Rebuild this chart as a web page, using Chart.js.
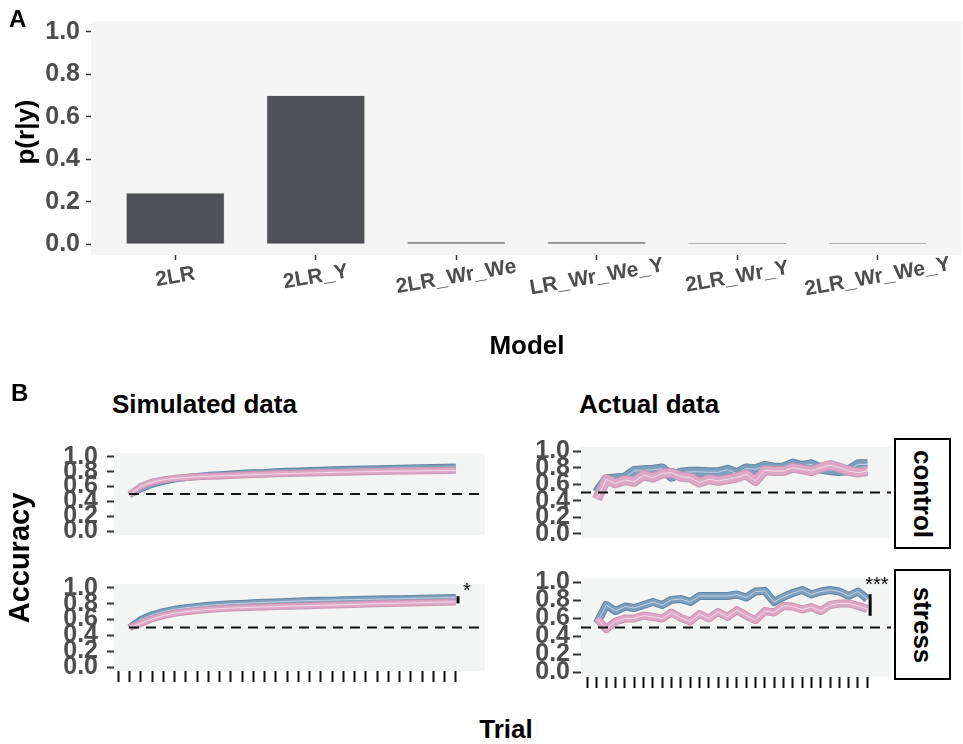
<!DOCTYPE html>
<html>
<head>
<meta charset="utf-8">
<script src="https://cdn.jsdelivr.net/npm/chart.js@4.4.1/dist/chart.umd.min.js"></script>
<style>
  html, body { margin: 0; padding: 0; background: #fff; }
  #fig { position: relative; width: 963px; height: 744px; overflow: hidden;
         font-family: "Liberation Sans", Arial, sans-serif; }
  #fig canvas { position: absolute; }
  .lbl { position: absolute; font-weight: bold; color: #000; white-space: nowrap; line-height: 1; }
  .rot { transform: translate(-50%, -50%) rotate(-90deg); }
  .ctr { transform: translateX(-50%); }
  .strip { position: absolute; border: 2px solid #000; background: #fff; box-sizing: border-box; }
  .strip span { position: absolute; left: 50%; top: 50%; line-height: 1; white-space: nowrap;
                transform: translate(-50%, -50%) rotate(90deg); font-weight: bold; font-size: 26px; color: #000; }
</style>
</head>
<body>
<div id="fig">
  <canvas id="cA" width="963" height="370" style="left:0;top:0"></canvas>
  <canvas id="cSimCtl" width="490" height="130" style="left:0;top:429px"></canvas>
  <canvas id="cActCtl" width="404" height="130" style="left:490px;top:429px"></canvas>
  <canvas id="cSimStr" width="490" height="135" style="left:0;top:560px"></canvas>
  <canvas id="cActStr" width="404" height="135" style="left:490px;top:560px"></canvas>

  <div class="lbl" style="left:9px;top:7px;font-size:24px">A</div>
  <div class="lbl rot" style="left:25px;top:132px;font-size:26px">p(r|y)</div>
  <div class="lbl ctr" style="left:527px;top:332px;font-size:26px">Model</div>

  <div class="lbl" style="left:11px;top:381px;font-size:24px">B</div>
  <div class="lbl" style="left:112px;top:391px;font-size:26px">Simulated data</div>
  <div class="lbl" style="left:579px;top:391px;font-size:26px">Actual data</div>
  <div class="lbl rot" style="left:19px;top:558px;font-size:29px">Accuracy</div>
  <div class="lbl ctr" style="left:506px;top:716px;font-size:26px">Trial</div>

  <div class="strip" style="left:894px;top:438px;width:57px;height:111px"><span>control</span></div>
  <div class="strip" style="left:894px;top:569px;width:57px;height:111px"><span>stress</span></div>
</div>

<script>
// ---- Panel A: posterior model probabilities ----
const models = ['2LR', '2LR_Y', '2LR_Wr_We', 'LR_Wr_We_Y', '2LR_Wr_Y', '2LR_Wr_We_Y'];
const modelProb = [0.242, 0.700, 0.012, 0.012, 0.008, 0.008];
const probTicks = [0.0, 0.2, 0.4, 0.6, 0.8, 1.0];

// ---- Panel B: learning curves (trials 1-30) ----
const trials = [1, 2, 3, 4, 5, 6, 7, 8, 9, 10, 11, 12, 13, 14, 15,
                16, 17, 18, 19, 20, 21, 22, 23, 24, 25, 26, 27, 28, 29, 30];
const trialTicks = [0, 1, 2, 3, 4, 5, 6, 7, 8, 9, 10, 11, 12, 13, 14, 15,
                    16, 17, 18, 19, 20, 21, 22, 23, 24, 25, 26, 27, 28, 29, 30];
const accTicks = [0.0, 0.2, 0.4, 0.6, 0.8, 1.0];

const simControlBlue = [0.49, 0.57, 0.63, 0.67, 0.70, 0.72, 0.735, 0.75, 0.76, 0.77,
                        0.78, 0.785, 0.79, 0.80, 0.805, 0.81, 0.815, 0.82, 0.825, 0.83,
                        0.833, 0.836, 0.84, 0.843, 0.846, 0.85, 0.852, 0.855, 0.858, 0.862];
const simControlPink = [0.49, 0.60, 0.66, 0.69, 0.71, 0.72, 0.73, 0.737, 0.743, 0.748,
                        0.754, 0.76, 0.765, 0.77, 0.775, 0.778, 0.782, 0.786, 0.79, 0.793,
                        0.796, 0.799, 0.802, 0.805, 0.807, 0.809, 0.811, 0.813, 0.815, 0.817];
const simStressBlue  = [0.50, 0.60, 0.66, 0.70, 0.73, 0.75, 0.765, 0.78, 0.79, 0.80,
                        0.805, 0.812, 0.818, 0.824, 0.83, 0.835, 0.84, 0.843, 0.846, 0.85,
                        0.853, 0.856, 0.859, 0.862, 0.865, 0.868, 0.871, 0.874, 0.877, 0.88];
const simStressPink  = [0.50, 0.55, 0.61, 0.65, 0.68, 0.70, 0.715, 0.728, 0.737, 0.745,
                        0.75, 0.755, 0.76, 0.764, 0.768, 0.772, 0.776, 0.78, 0.784, 0.788,
                        0.792, 0.796, 0.80, 0.804, 0.807, 0.81, 0.814, 0.817, 0.82, 0.823];

const actControlBlue = [0.50, 0.66, 0.67, 0.68, 0.76, 0.77, 0.775, 0.79, 0.69, 0.74,
                        0.75, 0.75, 0.745, 0.745, 0.775, 0.73, 0.79, 0.78, 0.82, 0.80,
                        0.80, 0.85, 0.82, 0.84, 0.79, 0.77, 0.76, 0.77, 0.84, 0.84];
const actControlPink = [0.42, 0.66, 0.61, 0.65, 0.63, 0.71, 0.68, 0.73, 0.74, 0.69,
                        0.68, 0.62, 0.66, 0.64, 0.66, 0.68, 0.72, 0.64, 0.77, 0.76,
                        0.76, 0.80, 0.78, 0.76, 0.80, 0.83, 0.80, 0.76, 0.74, 0.76];
const actStressBlue  = [0.55, 0.75, 0.683, 0.733, 0.717, 0.75, 0.783, 0.75, 0.807, 0.817,
                        0.783, 0.85, 0.85, 0.85, 0.85, 0.867, 0.833, 0.90, 0.907, 0.783,
                        0.84, 0.883, 0.917, 0.867, 0.90, 0.917, 0.90, 0.85, 0.90, 0.817];
const actStressPink  = [0.60, 0.483, 0.567, 0.60, 0.60, 0.633, 0.617, 0.60, 0.667, 0.607,
                        0.567, 0.65, 0.60, 0.673, 0.617, 0.693, 0.633, 0.583, 0.683, 0.667,
                        0.74, 0.733, 0.70, 0.727, 0.683, 0.75, 0.767, 0.767, 0.74, 0.707];

const FONT = "'Liberation Sans', Arial, sans-serif";
Chart.defaults.font.family = FONT;

const BLUE = { band: 'rgb(124,159,189)', edge: 'rgb(98,133,164)', mid: 'rgba(222,233,243,0.7)' };
const PINK = { band: 'rgb(220,168,197)', edge: 'rgb(203,148,180)', mid: 'rgba(252,234,243,0.75)' };

// ---- shared drawing helpers ----
const panelBg = {
  id: 'panelBg',
  beforeDraw(chart, args, opts) {
    const { ctx, chartArea: a } = chart;
    ctx.save();
    ctx.fillStyle = opts.color || '#f3f5f4';
    ctx.fillRect(a.left, a.top, a.right - a.left, a.bottom - a.top);
    ctx.restore();
  }
};

const chanceLine = {
  id: 'chanceLine',
  afterDatasetsDraw(chart, args, o) {
    if (o.value === undefined) return;
    const { ctx, chartArea: a, scales: { x, y } } = chart;
    const py = y.getPixelForValue(o.value);
    const x0 = o.from !== undefined ? x.getPixelForValue(o.from) : a.left;
    ctx.save();
    ctx.strokeStyle = '#111';
    ctx.lineWidth = 2;
    ctx.setLineDash([10, 7]);
    ctx.beginPath();
    ctx.moveTo(x0, py);
    ctx.lineTo(a.right, py);
    ctx.stroke();
    ctx.restore();
  }
};

const sigMark = {
  id: 'sigMark',
  afterDatasetsDraw(chart, args, o) {
    if (o.x === undefined) return;
    const { ctx, scales: { x, y } } = chart;
    const px = x.getPixelForValue(o.x);
    ctx.save();
    ctx.strokeStyle = '#000';
    ctx.lineWidth = 3;
    ctx.beginPath();
    ctx.moveTo(px, y.getPixelForValue(o.from));
    ctx.lineTo(px, y.getPixelForValue(o.to));
    ctx.stroke();
    ctx.fillStyle = '#000';
    ctx.font = '20px ' + FONT;
    ctx.textAlign = 'left';
    ctx.textBaseline = 'alphabetic';
    ctx.fillText(o.label, x.getPixelForValue(o.labelX), y.getPixelForValue(o.labelY));
    ctx.restore();
  }
};

Chart.register(panelBg, chanceLine, sigMark);

// ---- Panel A ----
const modelLabels = {
  id: 'modelLabels',
  afterDraw(chart) {
    const { ctx, scales: { x }, chartArea: a } = chart;
    ctx.save();
    ctx.font = 'bold 21px ' + FONT;
    ctx.fillStyle = '#4d4d4d';
    ctx.textAlign = 'center';
    ctx.textBaseline = 'middle';
    models.forEach((m, i) => {
      ctx.save();
      ctx.translate(x.getPixelForValue(i), a.bottom + 22);
      ctx.rotate(-10 * Math.PI / 180);
      ctx.fillText(m, 0, 0);
      ctx.restore();
    });
    ctx.restore();
  }
};

new Chart(document.getElementById('cA'), {
  type: 'bar',
  data: {
    datasets: [{
      data: modelProb.map((v, i) => ({ x: i, y: v })),
      backgroundColor: '#505157',
      borderColor: '#c8c9cb',
      borderWidth: 0.6,
      barPercentage: 0.7,
      categoryPercentage: 1.0
    }]
  },
  options: {
    responsive: false,
    animation: false,
    events: [],
    layout: { padding: { top: 8, right: 1, left: 0, bottom: 0 } },
    plugins: { legend: { display: false }, tooltip: { enabled: false }, panelBg: { color: '#f4f5f4' } },
    scales: {
      x: {
        type: 'linear', min: -0.6, max: 5.6, offset: false,
        afterBuildTicks: s => { s.ticks = models.map((_, i) => ({ value: i })); },
        ticks: { display: false },
        grid: { offset: false, drawOnChartArea: false, tickLength: 5, tickWidth: 1.5, tickColor: '#333' },
        border: { display: false },
        afterFit: s => { s.height = 115; }
      },
      y: {
        min: -0.05, max: 1.05,
        afterBuildTicks: s => { s.ticks = probTicks.map(v => ({ value: v })); },
        ticks: { autoSkip: false, padding: 6, color: '#4d4d4d',
                 font: { size: 25, weight: 'bold' }, callback: v => v.toFixed(1) },
        grid: { drawOnChartArea: false, tickLength: 5, tickWidth: 1.5, tickColor: '#333' },
        border: { display: false },
        afterFit: s => { s.width = 91; }
      }
    }
  },
  plugins: [modelLabels]
});

// ---- Panel B ----
// each curve: a broad band with a darker rim and a pale centre line
function curve(mean, width, col) {
  const pts = mean.map((v, i) => ({ x: trials[i], y: v }));
  const common = { data: pts, pointRadius: 0, borderJoinStyle: 'round', borderCapStyle: 'butt' };
  return [
    { ...common, borderColor: col.mid, borderWidth: 1 },
    { ...common, borderColor: col.band, borderWidth: width },
    { ...common, borderColor: col.edge, borderWidth: width + 2 }
  ];
}

function curvePanel(id, cfg) {
  return new Chart(document.getElementById(id), {
    type: 'line',
    data: {
      datasets: [
        ...curve(cfg.pink, cfg.width, PINK),
        ...curve(cfg.blue, cfg.width, BLUE)
      ]
    },
    options: {
      responsive: false,
      animation: false,
      events: [],
      layout: { padding: cfg.padding },
      elements: { line: { tension: 0, fill: false } },
      plugins: {
        legend: { display: false }, tooltip: { enabled: false },
        panelBg: { color: '#f3f5f4' },
        chanceLine: { value: 0.5, from: cfg.dashFrom },
        sigMark: cfg.sig || {}
      },
      scales: {
        x: {
          type: 'linear', min: cfg.xmin, max: cfg.xmax,
          display: cfg.showX,
          afterBuildTicks: s => { s.ticks = trialTicks.map(v => ({ value: v })); },
          ticks: { display: false },
          grid: { drawOnChartArea: false, tickLength: 11, tickWidth: 2, tickColor: '#111' },
          border: { display: false },
          afterFit: s => { s.height = 11; }
        },
        y: {
          min: -0.05, max: 1.05,
          afterBuildTicks: s => { s.ticks = accTicks.map(v => ({ value: v })); },
          ticks: { autoSkip: false, padding: cfg.labelPad, color: '#4d4d4d',
                   font: { size: 25, weight: 'bold' }, callback: v => v.toFixed(1) },
          grid: { drawOnChartArea: false, tickLength: cfg.tickLen, tickWidth: 2, tickColor: '#333' },
          border: { display: false },
          afterFit: s => { s.width = cfg.axisW; }
        }
      }
    }
  });
}

curvePanel('cSimCtl', {
  blue: simControlBlue, pink: simControlPink, width: 5,
  xmin: -0.38, xmax: 32.6, showX: false, dashFrom: 0.95,
  padding: { top: 8, right: 5, bottom: 10, left: 0 }, axisW: 114, tickLen: 7, labelPad: 9
});
curvePanel('cActCtl', {
  blue: actControlBlue, pink: actControlPink, width: 8,
  xmin: -0.71, xmax: 32.54, showX: false,
  padding: { top: 8, right: 3, bottom: 10, left: 0 }, axisW: 91, tickLen: 8, labelPad: 3
});
curvePanel('cSimStr', {
  blue: simStressBlue, pink: simStressPink, width: 5,
  xmin: -0.38, xmax: 32.6, showX: true, dashFrom: 0.95,
  padding: { top: 9, right: 5, bottom: 4, left: 0 }, axisW: 114, tickLen: 7, labelPad: 9,
  sig: { x: 30.2, from: 0.895, to: 0.805, label: '*', labelX: 30.64, labelY: 0.89 }
});
curvePanel('cActStr', {
  blue: actStressBlue, pink: actStressPink, width: 6,
  xmin: -0.71, xmax: 32.54, showX: true,
  padding: { top: 9, right: 3, bottom: 4, left: 0 }, axisW: 91, tickLen: 8, labelPad: 3,
  sig: { x: 30.3, from: 0.87, to: 0.63, label: '***', labelX: 29.77, labelY: 0.91 }
});
</script>
</body>
</html>
